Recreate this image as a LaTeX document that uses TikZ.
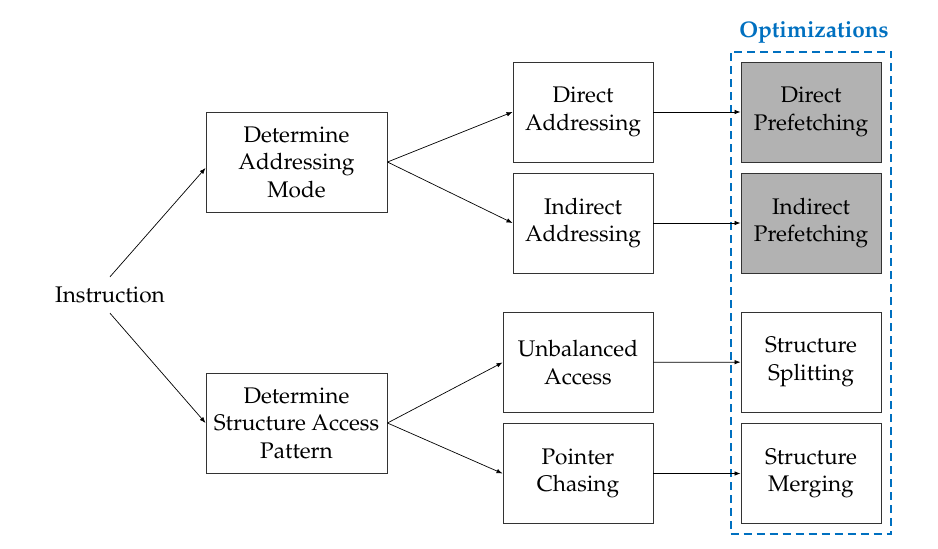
\documentclass[tikz,border=0pt]{standalone}
\usepackage[T1]{fontenc}
\usepackage{mathpazo}
\usetikzlibrary{arrows.meta, positioning, fit}
\definecolor{optblue}{RGB}{0,112,192}

\begin{document}
\begin{tikzpicture}
    [
        x=1pt, y=-1pt,
        every node/.style = {
            font=\fontsize{22.6}{27.5}\selectfont
        },
        stage box/.style = {
            draw=black!80, line width=0.9pt, align=center,
            minimum height=100pt, inner sep=0pt
        },
        opt box/.style = {
            stage box, minimum width=140pt
        },
        link/.style = {
            -{Latex[length=6pt,width=4.5pt]}, line width=0.7pt
        },
    ]
    \useasboundingbox (0,0) rectangle (938,549);
    \node[minimum height=36pt, inner ysep=0pt] (instr) at (110,295) {Instruction};
    \node[stage box, minimum width=181pt] (mode) at (296.5,162) {Determine\\Addressing\\Mode};
    \node[stage box, minimum width=181pt] (pattern) at (296.5,423) {Determine\\Structure Access\\Pattern};
    \node[stage box, minimum width=140pt] (direct) at (583,112) {Direct\\Addressing};
    \node[stage box, minimum width=140pt] (indirect) at (583,223) {Indirect\\Addressing};
    \node[stage box, minimum width=150pt] (unbal) at (578,362.5) {Unbalanced\\Access};
    \node[stage box, minimum width=150pt] (chase) at (578,473.5) {Pointer\\Chasing};
    \node[opt box, fill=black!30] (dpref) at (811,112) {Direct\\Prefetching};
    \node[opt box, fill=black!30] (ipref) at (811,223) {Indirect\\Prefetching};
    \node[opt box] (split) at (811,362) {Structure\\Splitting};
    \node[opt box] (merge) at (811,473.5) {Structure\\Merging};
    \node[draw=optblue, line width=2pt, dash pattern=on 8pt off 5pt,
          inner sep=10pt, fit=(dpref)(merge)] (opts) {};
    \node[text=optblue, font=\fontsize{22.6}{27}\selectfont\bfseries] (optlabel) at (814,32) {Optimizations};
    \draw[link] (instr.north) -- ([yshift=-6pt]mode.west);
    \draw[link] (instr.south) -- (pattern.west);
    \draw[link] (mode.east) -- (direct.west);
    \draw[link] (mode.east) -- (indirect.west);
    \draw[link] (pattern.east) -- (unbal.west);
    \draw[link] (pattern.east) -- (chase.west);
    \draw[link] (direct) -- (dpref);
    \draw[link] (indirect) -- (ipref);
    \draw[link] (unbal) -- (split);
    \draw[link] (chase) -- (merge);
\end{tikzpicture}
\end{document}
